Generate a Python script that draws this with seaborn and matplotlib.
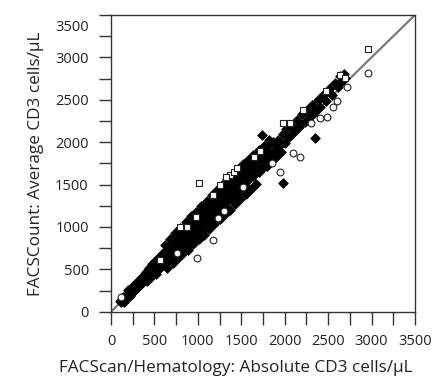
import matplotlib
matplotlib.use("Agg")
import matplotlib.pyplot as plt
from matplotlib.ticker import MultipleLocator, FuncFormatter
import seaborn as sns

# values (cells/uL)
filled_x = [100, 115, 140, 150, 170, 185, 200, 215, 230, 250, 265, 280, 300, 310, 330,
            345, 360, 375, 390,
            405, 415, 425, 440, 450, 460, 475, 485, 495, 505, 515, 530, 540, 555, 565,
            575, 590, 600, 610, 625, 635, 645, 660, 670, 680, 695,
            700, 705, 712, 718, 725, 732, 740, 748, 755, 762, 770, 778, 785, 792, 800,
            808, 815, 822, 830, 838, 845, 852, 860, 868, 875, 882, 890, 898, 905, 912,
            920, 928, 935, 942, 950, 958, 965, 972, 980, 988, 995,
            1002, 1008, 1015, 1022, 1030, 1037, 1045, 1052, 1060, 1067, 1075, 1082, 1090,
            1097, 1105, 1112, 1120, 1127, 1135, 1142, 1150, 1157, 1165, 1172, 1180, 1187,
            1195, 1202, 1210, 1217, 1225, 1232, 1240, 1247, 1255, 1262, 1270, 1277, 1285,
            1292, 1300,
            1305, 1312, 1320, 1327, 1335, 1342, 1350, 1358, 1365, 1372, 1380, 1388, 1395,
            1402, 1410, 1418, 1425, 1432, 1440, 1448, 1455, 1462, 1470, 1478, 1485, 1492,
            1500, 1510, 1520, 1530, 1540, 1550, 1560, 1570, 1580, 1590,
            1600, 1615, 1630, 1645, 1660, 1675, 1690, 1705, 1720, 1735, 1750, 1765, 1780,
            1795, 1810, 1825, 1840, 1860, 1880, 1900, 1920, 1940, 1960, 1980, 2000,
            2020, 2050, 2080, 2110, 2140, 2170, 2200, 2230, 2260, 2290, 2320, 2350, 2380,
            2410, 2440, 2470, 2500, 2540, 2580, 2610, 2640, 2660, 2680, 2700,
            1976, 2347, 1735, 2520,
            620, 680, 740, 800, 860, 920, 980, 1040, 1100, 1160, 1220, 1280, 1340, 1400,
            1460, 1520, 1580, 1640, 1700, 1760, 1820,
            650, 710, 770, 830, 890, 950, 1010, 1070, 1130, 1190, 1250, 1310, 1370, 1430,
            1490, 1550, 1610, 1670]
filled_y = [130, 110, 175, 120, 200, 160, 260, 190, 220, 300, 240, 330, 280, 360, 310,
            400, 340, 430, 370,
            470, 360, 430, 520, 400, 490, 560, 440, 530, 600, 450, 580, 500, 650, 520,
            610, 680, 550, 640, 720, 570, 690, 610, 760, 650, 720,
            780, 650, 740, 860, 700, 800, 690, 880, 760, 820, 720, 910, 800, 700, 870,
            780, 960, 840, 750, 900, 810, 990, 870, 780, 940, 850, 1030, 900, 800, 980,
            880, 1060, 940, 840, 1010, 920, 1100, 970, 870, 1040, 950,
            1120, 960, 1060, 1180, 1010, 1100, 920, 1210, 1090, 1000, 1150, 1250, 1040,
            1130, 1190, 1010, 1280, 1160, 1080, 1230, 1140, 1320, 1060, 1200, 1270, 1110,
            1350, 1240, 1150, 1300, 1200, 1380, 1120, 1280, 1340, 1190, 1420, 1310, 1220,
            1370, 1280,
            1420, 1250, 1360, 1480, 1300, 1400, 1520, 1330, 1450, 1560, 1370, 1470, 1600,
            1400, 1520, 1330, 1620, 1480, 1560, 1400, 1660, 1510, 1430, 1590, 1680, 1480,
            1570, 1700, 1520, 1620, 1490, 1720, 1600, 1680, 1550, 1760,
            1650, 1780, 1600, 1720, 1830, 1690, 1800, 1650, 1880, 1760, 1700, 1900, 1820,
            1720, 1950, 1860, 1780, 2000, 1900, 1820, 2030, 1960, 1880, 2100, 1990,
            2150, 2060, 2190, 2120, 2260, 2180, 2330, 2240, 2380, 2300, 2440, 2360, 2500,
            2420, 2560, 2480, 2600, 2560, 2700, 2650, 2780, 2720, 2800, 2760,
            1514, 2052, 2084, 2641,
            790, 860, 930, 990, 1060, 1130, 1180, 1250, 1310, 1380, 1440, 1490, 1560, 1620,
            1680, 1740, 1790, 1850, 1910, 1960, 2020,
            520, 570, 630, 690, 730, 800, 860, 910, 970, 1030, 1090, 1150, 1200, 1270,
            1330, 1390, 1450, 1510]

square_x = [1010, 2965, 1370, 1330, 794, 870, 1980, 2210, 1420, 1250, 2640, 2700,
            1720, 1650, 560, 980, 1180, 2480, 1450, 2060]
square_y = [1520, 3098, 1610, 1590, 1003, 1003, 2225, 2380, 1650, 1500, 2790, 2760,
            1900, 1820, 610, 1120, 1380, 2600, 1700, 2230]

circle_x = [2965, 1177, 986, 1945, 2560, 2483, 2405, 2176, 2100, 1230, 2720, 120,
            1520, 1850, 760, 2300, 1300, 2600]
circle_y = [2818, 846, 630, 1648, 2418, 2300, 2284, 1829, 1869, 1100, 2650, 170,
            1470, 1760, 690, 2230, 1190, 2480]

sns.set_style("white")
plt.rcParams['font.family'] = ['Open Sans', 'DejaVu Sans']

fig = plt.figure(figsize=(4.45, 3.81), dpi=100)
ax = fig.add_axes([0.2494, 0.1819, 0.6831, 0.7787])

ax.axline((0, 0), slope=1, color="#7a7a7a", lw=1.6, zorder=1)

sns.scatterplot(x=filled_x, y=filled_y, ax=ax, marker="D", s=24, color="black",
                edgecolor="black", linewidth=0.6, zorder=3)
sns.scatterplot(x=square_x, y=square_y, ax=ax, marker="s", s=24, facecolor="white",
                edgecolor="#222222", linewidth=0.8, zorder=4)
sns.scatterplot(x=circle_x, y=circle_y, ax=ax, marker="o", s=24, facecolor="white",
                edgecolor="#222222", linewidth=0.8, zorder=4)

ax.set_xlim(0, 3500)
ax.set_ylim(0, 3500)
ax.xaxis.set_major_locator(MultipleLocator(500))
ax.yaxis.set_major_locator(MultipleLocator(500))
ax.xaxis.set_minor_locator(MultipleLocator(250))
ax.yaxis.set_minor_locator(MultipleLocator(250))
ax.yaxis.set_major_formatter(FuncFormatter(lambda v, p: "" if v >= 3500 else f"{v:.0f}"))
ax.tick_params(which="both", direction="out", length=9, width=1.0, color="#333333",
               pad=7, labelsize=10.5, labelcolor="#222222")
ax.tick_params(which="both", bottom=True, left=True)

for sp in ax.spines.values():
    sp.set_color("#333333")
    sp.set_linewidth(1.0)

# the top y label sits a little below its tick in the reference
ax.annotate("3500", xy=(0, 3500), xycoords=ax.get_yaxis_transform(),
            xytext=(-16, -9), textcoords="offset points", ha="right", va="center",
            fontsize=10.5, color="#222222")

ax.set_xlabel("FACScan/Hematology: Absolute CD3 cells/µL", fontsize=12.3, color="#222222", labelpad=8)
ax.xaxis.label.set_x(0.41)
ax.set_ylabel("FACSCount: Average CD3 cells/µL", fontsize=12.3, color="#222222", labelpad=8)

fig.savefig("out.png", dpi=100)
